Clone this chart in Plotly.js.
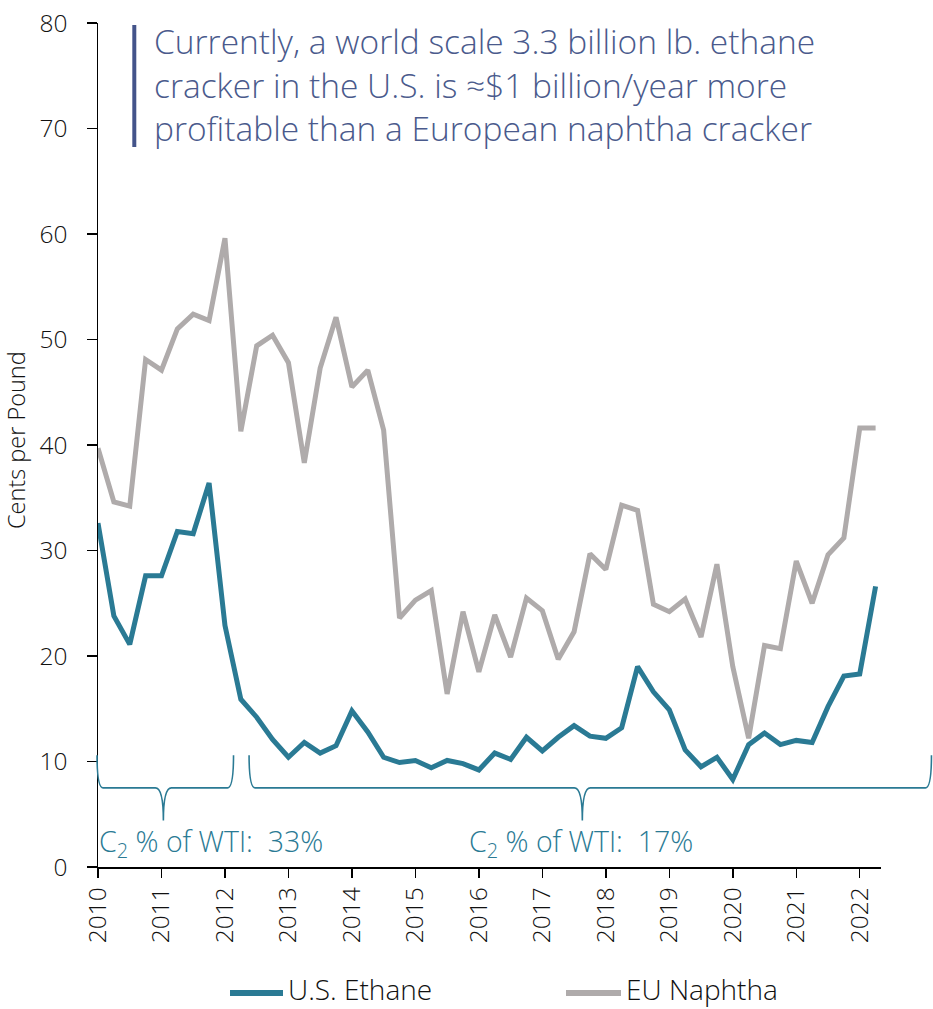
<!DOCTYPE html>
<html>
<head>
<meta charset="utf-8">
<script src="https://cdn.plot.ly/plotly-3.0.1.min.js"></script>
<style>
  html, body { margin: 0; padding: 0; background: #fff; }
  #chart { width: 933px; height: 1009px; }
</style>
</head>
<body>
<div id="chart"></div>
<script>
// Quarterly periods (decimal years, Q1 2010 .. Q2 2022)
const quarters = [
  2010.00, 2010.25, 2010.50, 2010.75,
  2011.00, 2011.25, 2011.50, 2011.75,
  2012.00, 2012.25, 2012.50, 2012.75,
  2013.00, 2013.25, 2013.50, 2013.75,
  2014.00, 2014.25, 2014.50, 2014.75,
  2015.00, 2015.25, 2015.50, 2015.75,
  2016.00, 2016.25, 2016.50, 2016.75,
  2017.00, 2017.25, 2017.50, 2017.75,
  2018.00, 2018.25, 2018.50, 2018.75,
  2019.00, 2019.25, 2019.50, 2019.75,
  2020.00, 2020.25, 2020.50, 2020.75,
  2021.00, 2021.25, 2021.50, 2021.75,
  2022.00, 2022.25
];

// U.S. Ethane, cents per pound
const usEthane = [
  32.6, 23.8, 21.1, 27.6, 27.6, 31.8, 31.6, 36.4, 22.9, 15.9,
  14.2, 12.1, 10.4, 11.8, 10.8, 11.5, 14.8, 12.8, 10.4, 9.9,
  10.1, 9.4, 10.1, 9.8, 9.2, 10.8, 10.2, 12.3, 11.0, 12.3,
  13.4, 12.4, 12.2, 13.2, 19.0, 16.6, 14.9, 11.1, 9.5, 10.4,
  8.3, 11.6, 12.7, 11.6, 12.0, 11.8, 15.2, 18.1, 18.3, 26.6
];

// EU Naphtha, cents per pound
const euNaphtha = [
  39.7, 34.6, 34.2, 48.1, 47.1, 51.0, 52.4, 51.8, 59.6, 41.3,
  49.4, 50.4, 47.8, 38.3, 47.3, 52.1, 45.5, 47.1, 41.4, 23.6,
  25.3, 26.2, 16.4, 24.2, 18.5, 23.9, 19.9, 25.5, 24.3, 19.7,
  22.3, 29.7, 28.2, 34.3, 33.8, 24.9, 24.2, 25.4, 21.8, 28.7,
  19.0, 12.2, 21.0, 20.7, 29.0, 25.0, 29.6, 31.2, 41.6, 41.6
];

const yearTicks = [2010, 2011, 2012, 2013, 2014, 2015, 2016, 2017, 2018, 2019, 2020, 2021, 2022];
const yearLabels = ["2010", "2011", "2012", "2013", "2014", "2015", "2016", "2017", "2018", "2019", "2020", "2021", "2022"];
const yTicks = [0, 10, 20, 30, 40, 50, 60, 70, 80];

const seriesNames = ["U.S. Ethane", "EU Naphtha"];
const braceLabels = ["C<sub>2</sub> % of WTI:  33%", "C<sub>2</sub> % of WTI:  17%"];
const noteText = "Currently, a world scale 3.3 billion lb. ethane<br>cracker in the U.S. is ≈$1 billion/year more<br>profitable than a European naphtha cracker";

// Periods covered by the braces (decimal years)
const braceSpans = [[2009.985, 2012.135], [2012.38, 2023.13]];
const braceTips = [2011.03, 2017.63];

// ---------- layout geometry ----------
const W = 933, H = 1009;
const M = { l: 98, r: 52, t: 23, b: 142 };
const X0 = 2010, X1 = 2022.335;
const Y0 = 0, Y1 = 80;
const plotW = W - M.l - M.r, plotH = H - M.t - M.b;

const TEAL = "#2a7a94";
const GRAY = "#afabab";
const NOTE = "#4a5a8c";
const INK = "#111111";
const FONT = "Open Sans, Noto Sans, sans-serif";
const WT = 350;

// helpers: data/pixel -> paper coordinates
const yrToPx = yr => M.l + (yr - X0) / (X1 - X0) * plotW;
const valToPx = v => M.t + (Y1 - v) / (Y1 - Y0) * plotH;
const pxX = p => (p - M.l) / plotW;
const pxY = p => (H - M.b - p) / plotH;
const P = (x, y) => pxX(x).toFixed(5) + "," + pxY(y).toFixed(5);

function bracePath(x0, x1, tip, yTop, yMid, yBot) {
  return "M " + P(x0, yTop) +
    " Q " + P(x0, yMid) + " " + P(x0 + 6, yMid) +
    " L " + P(tip - 8, yMid) +
    " Q " + P(tip, yMid) + " " + P(tip, yBot) +
    " Q " + P(tip, yMid) + " " + P(tip + 8, yMid) +
    " L " + P(x1 - 6, yMid) +
    " Q " + P(x1, yMid) + " " + P(x1, yTop);
}

const shapes = [];
const braceTop = valToPx(10.6), braceMid = valToPx(7.5), braceBot = valToPx(4.4);
braceSpans.forEach((s, i) => {
  shapes.push({
    type: "path", xref: "paper", yref: "paper",
    path: bracePath(yrToPx(s[0]), yrToPx(s[1]), yrToPx(braceTips[i]), braceTop, braceMid, braceBot),
    line: { color: TEAL, width: 1.6 }
  });
});

// note vertical bar
shapes.push({
  type: "line", xref: "paper", yref: "paper",
  x0: pxX(134.3), x1: pxX(134.3), y0: pxY(25), y1: pxY(147),
  line: { color: "#44548a", width: 4 }
});

// manual legend
const legendY = 993;
const legendItems = [
  { x0: 230, x1: 283, color: TEAL, textX: 287 },
  { x0: 566, x1: 621, color: GRAY, textX: 625 }
];
legendItems.forEach(it => {
  shapes.push({
    type: "line", xref: "paper", yref: "paper",
    x0: pxX(it.x0), x1: pxX(it.x1), y0: pxY(legendY), y1: pxY(legendY),
    line: { color: it.color, width: 6 }
  });
});

const annotations = [];
annotations.push({
  xref: "paper", yref: "paper", x: pxX(152), y: pxY(16),
  xanchor: "left", yanchor: "top", align: "left", showarrow: false,
  text: noteText, font: { family: FONT, size: 33.5, color: NOTE, weight: WT }
});
annotations.push({
  xref: "paper", yref: "paper", x: pxX(97), y: pxY(843),
  xanchor: "left", yanchor: "middle", align: "left", showarrow: false,
  text: braceLabels[0], font: { family: FONT, size: 28.5, color: TEAL, weight: WT }
});
annotations.push({
  xref: "paper", yref: "paper", x: pxX(467), y: pxY(843),
  xanchor: "left", yanchor: "middle", align: "left", showarrow: false,
  text: braceLabels[1], font: { family: FONT, size: 28.5, color: TEAL, weight: WT }
});
annotations.push({
  xref: "paper", yref: "paper", x: pxX(16), y: pxY(440),
  xanchor: "center", yanchor: "middle", textangle: -90, showarrow: false,
  text: "Cents per Pound", font: { family: FONT, size: 23.5, color: INK, weight: WT }
});
legendItems.forEach((it, i) => {
  annotations.push({
    xref: "paper", yref: "paper", x: pxX(it.textX), y: pxY(H),
    xanchor: "left", yanchor: "bottom", showarrow: false, borderpad: 0,
    text: seriesNames[i], font: { family: FONT, size: 28, color: INK, weight: WT }
  });
});

const traces = [
  { x: quarters, y: euNaphtha, name: seriesNames[1], type: "scatter", mode: "lines",
    line: { color: GRAY, width: 5 }, cliponaxis: false },
  { x: quarters, y: usEthane, name: seriesNames[0], type: "scatter", mode: "lines",
    line: { color: TEAL, width: 5 }, cliponaxis: false }
];

const layout = {
  width: W, height: H,
  margin: M,
  paper_bgcolor: "#ffffff", plot_bgcolor: "#ffffff",
  showlegend: false,
  font: { family: FONT, size: 24, color: INK, weight: WT },
  xaxis: {
    range: [X0, X1], tickvals: yearTicks, ticktext: yearLabels,
    tickangle: -90, ticks: "outside", ticklen: 9, tickwidth: 1.5, tickcolor: "#000",
    showline: true, linecolor: "#000", linewidth: 1.5,
    showgrid: false, zeroline: false, fixedrange: true,
    tickfont: { family: FONT, size: 24.5, color: INK, weight: WT }
  },
  yaxis: {
    range: [Y0, Y1], tickvals: yTicks,
    ticks: "outside", ticklen: 10, tickwidth: 1.5, tickcolor: "#000",
    showline: true, linecolor: "#000", linewidth: 1.5,
    showgrid: false, zeroline: false, fixedrange: true,
    ticklabelstandoff: 14,
    tickfont: { family: FONT, size: 24.5, color: INK, weight: WT }
  },
  shapes: shapes,
  annotations: annotations
};

Plotly.newPlot("chart", traces, layout, { staticPlot: true, displayModeBar: false });
</script>
</body>
</html>
